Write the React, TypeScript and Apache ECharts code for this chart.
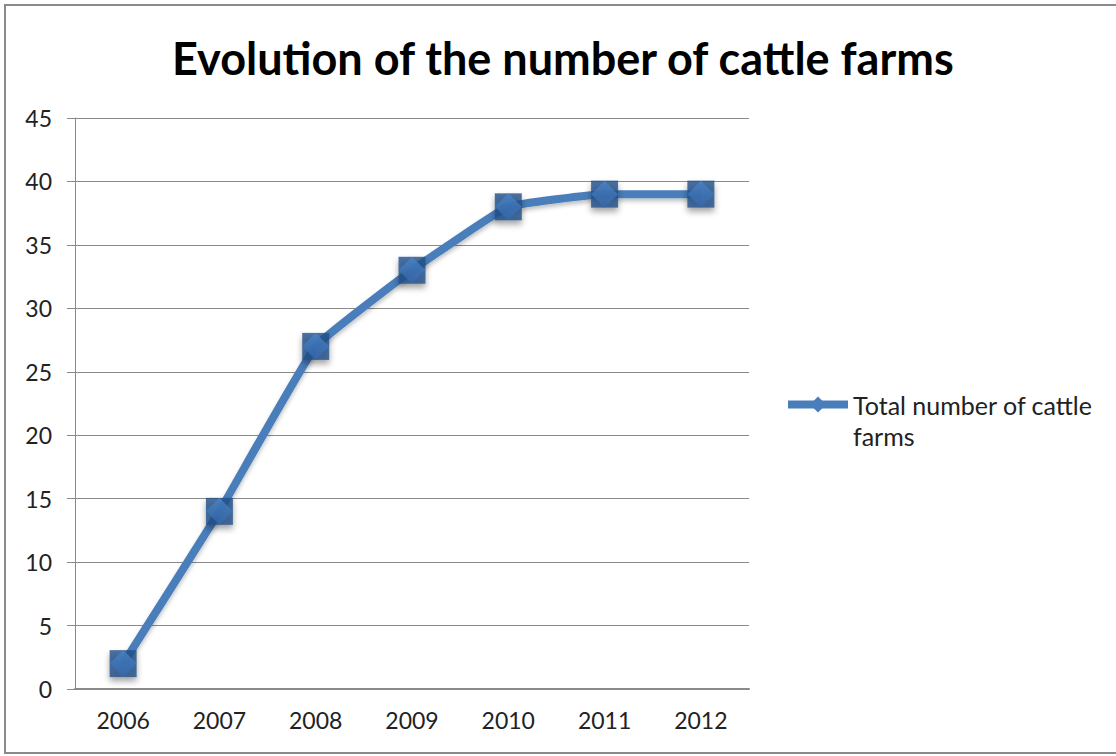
import React, { useEffect, useRef } from "react";
import * as echarts from "echarts";

const years = ["2006", "2007", "2008", "2009", "2010", "2011", "2012"];
const farms = [2, 14, 27, 33, 38, 39, 39];
const seriesName = "Total number of cattle farms";
const titleText = "Evolution of the number of cattle farms";

const FONT = "Lato, 'Noto Sans', sans-serif";

export default function App() {
  const ref = useRef<HTMLDivElement>(null);

  useEffect(() => {
    if (!ref.current) return;
    const chart = echarts.init(ref.current, undefined, { renderer: "svg" });
    chart.setOption({
      animation: false,
      backgroundColor: "#ffffff",
      textStyle: { fontFamily: FONT },
      title: {
        text: titleText,
        left: 167,
        top: 30,
        textStyle: { fontSize: 45, fontWeight: "bold", color: "#000", fontFamily: FONT },
      },
      graphic: [
        {
          type: "rect",
          shape: { x: 5, y: 5, width: 1130, height: 748 },
          style: { fill: "none", stroke: "#8a8a8a", lineWidth: 2 },
          silent: true,
          z: -1,
        },
      ],
      legend: {
        data: [seriesName],
        left: 784,
        top: 358,
        padding: 0,
        itemWidth: 60,
        itemHeight: 20,
        lineStyle: { width: 8, color: "#4a7ebb" },
        // blank first line keeps the icon level with the first text line
        formatter: () => "\nTotal number of cattle\nfarms",
        textStyle: {
          fontSize: 25,
          lineHeight: 31,
          color: "#222",
          fontFamily: FONT,
        },
      },
      grid: { left: 75, right: 367, top: 118, bottom: 67, containLabel: false },
      xAxis: {
        type: "category",
        data: years,
        boundaryGap: true,
        axisLine: { show: true, lineStyle: { color: "#8a8a8a", width: 2 } },
        axisTick: { show: false },
        axisLabel: { fontSize: 23, color: "#222", margin: 19, fontFamily: FONT },
        splitLine: { show: false },
      },
      yAxis: {
        type: "value",
        min: 0,
        max: 45,
        interval: 5,
        axisLine: { show: true, lineStyle: { color: "#8a8a8a", width: 1 } },
        axisTick: { show: true, inside: false, length: 8, lineStyle: { color: "#8a8a8a" } },
        axisLabel: { fontSize: 23, color: "#222", margin: 23, fontFamily: FONT },
        splitLine: { show: true, lineStyle: { color: "#8a8a8a", width: 1 } },
      },
      series: [
        {
          name: seriesName,
          type: "line",
          data: farms,
          smooth: 0.1,
          symbol: "diamond",
          showSymbol: false,
          lineStyle: {
            color: "#4a7ebb",
            width: 8,
            shadowColor: "rgba(0,0,0,0.25)",
            shadowBlur: 4,
            shadowOffsetY: 3,
          },
          itemStyle: { color: "#4a7ebb" },
          z: 2,
        },
        {
          name: "squares",
          type: "scatter",
          data: farms,
          symbol: "rect",
          symbolSize: 27,
          itemStyle: {
            color: "#234f88",
            shadowColor: "rgba(0,0,0,0.45)",
            shadowBlur: 6,
            shadowOffsetY: 4,
          },
          z: 3,
          silent: true,
        },
        {
          name: "diamonds",
          type: "scatter",
          data: farms,
          symbol: "diamond",
          symbolSize: 27,
          itemStyle: {
            color: new echarts.graphic.LinearGradient(0, 0, 0, 1, [
              { offset: 0, color: "#4b85c9" },
              { offset: 1, color: "#3566a8" },
            ]),
          },
          z: 4,
          silent: true,
        },
      ],
    });
    return () => chart.dispose();
  }, []);

  return (
    <div
      ref={ref}
      style={{ position: "fixed", left: 0, top: 0, width: 1116, height: 756 }}
    />
  );
}
